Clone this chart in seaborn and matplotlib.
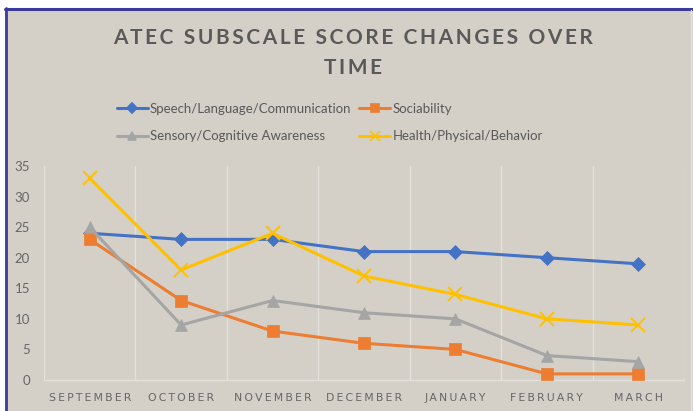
import matplotlib
matplotlib.use("Agg")
import matplotlib.pyplot as plt
import seaborn as sns
import pandas as pd
from matplotlib.lines import Line2D
from matplotlib.patches import Rectangle

months = ["SEPTEMBER", "OCTOBER", "NOVEMBER", "DECEMBER", "JANUARY", "FEBRUARY", "MARCH"]
series_names = ["Speech/Language/Communication", "Sociability",
                "Sensory/Cognitive Awareness", "Health/Physical/Behavior"]
speech = [24, 23, 23, 21, 21, 20, 19]
sociability = [23, 13, 8, 6, 5, 1, 1]
sensory = [25, 9, 13, 11, 10, 4, 3]
health = [33, 18, 24, 17, 14, 10, 9]
y_ticks = [0, 5, 10, 15, 20, 25, 30, 35]
title_lines = ["ATEC SUBSCALE SCORE CHANGES OVER", "TIME"]

colors = ["#4472C4", "#ED7D31", "#A5A5A5", "#FFC000"]
markers = ["D", "s", "^", "x"]
msizes = [7, 8, 8, 10]

sns.set_theme(style="white")
plt.rcParams["font.family"] = ["Lato", "DejaVu Sans"]

rows = []
for name, vals in zip(series_names, [speech, sociability, sensory, health]):
    for i, v in enumerate(vals):
        rows.append({"month": i, "score": v, "series": name})
df = pd.DataFrame(rows)


def spaced(s, sep="\u200a"):
    return sep.join(s)


BG = "#D4D0C8"
TXT = "#595959"
W, H = 693, 411
fig = plt.figure(figsize=(W / 100, H / 100), dpi=100, facecolor="white")
fig.patches.append(Rectangle((5 / W, 0), 1, (H - 8) / H, transform=fig.transFigure,
                             facecolor=BG, edgecolor="none", zorder=-5))
fig.lines.append(Line2D([5 / W, 1], [(H - 9) / H] * 2, transform=fig.transFigure,
                        color="#3B3B9E", lw=2.2, zorder=-4))
fig.lines.append(Line2D([6 / W] * 2, [0, (H - 8) / H], transform=fig.transFigure,
                        color="#3B3B9E", lw=2.0, zorder=-4))
fig.lines.append(Line2D([691 / W] * 2, [0, (H - 10) / H], transform=fig.transFigure,
                        color="#E6E4E0", lw=1.0, zorder=-4))

ax = fig.add_axes([44 / W, (H - 380) / H, (684 - 44) / W, (380 - 166) / H])
ax.set_facecolor(BG)
ax.patch.set_alpha(0)

for i, name in enumerate(series_names):
    sub = df[df["series"] == name]
    sns.lineplot(data=sub, x="month", y="score", ax=ax, color=colors[i],
                 marker=markers[i], markersize=msizes[i], linewidth=2.2,
                 markeredgecolor=colors[i], markeredgewidth=1.4 if markers[i] == "x" else 0.5,
                 zorder=3 + i)

ax.set_xlim(-0.5, 6.5)
ax.set_ylim(0, 35)
ax.set_yticks(y_ticks)
ax.set_yticklabels([str(t) for t in y_ticks], color="#666666", fontsize=9.5)
ax.set_xticks(range(len(months)))
ax.set_xticklabels([spaced(m, "\u2009") for m in months], color="#666666", fontsize=7.8,
                   family=["DejaVu Sans"])
ax.tick_params(axis="both", length=0)
ax.tick_params(axis="y", pad=10)
ax.tick_params(axis="x", pad=9)
for xv in [k + 0.5 for k in range(-1, 7)]:
    ax.axvline(xv, color="#E3E1DC", lw=1.0, zorder=1)
for s in ["top", "right", "left"]:
    ax.spines[s].set_visible(False)
ax.spines["bottom"].set_color("#E3E1DC")
ax.spines["bottom"].set_linewidth(1.0)
ax.set_xlabel("")
ax.set_ylabel("")
ax.grid(False)

fig.text(353 / W, 1 - 38 / H, spaced(title_lines[0], "\u2009"), ha="center", va="center",
         fontsize=15, fontweight="bold", color=TXT, family=["Lato", "DejaVu Sans"])
fig.text(353 / W, 1 - 68 / H, spaced(title_lines[1], "\u2009"), ha="center", va="center",
         fontsize=15, fontweight="bold", color=TXT, family=["Lato", "DejaVu Sans"])

handles = [Line2D([], [], color=colors[i], marker=markers[i], markersize=msizes[i] * 0.7,
                  markeredgewidth=1.2, lw=2.2) for i in range(4)]
order = [0, 2, 1, 3]
leg = fig.legend([handles[i] for i in order], [series_names[i] for i in order],
                 loc="upper left", bbox_to_anchor=(110 / W, 1 - 96 / H), ncol=2,
                 frameon=False, fontsize=9.5, handlelength=2.35, handletextpad=0.15,
                 columnspacing=0.63, labelspacing=1.2, borderpad=0)
for t in leg.get_texts():
    t.set_color(TXT)

fig.savefig("out.png", dpi=100, facecolor="white")
